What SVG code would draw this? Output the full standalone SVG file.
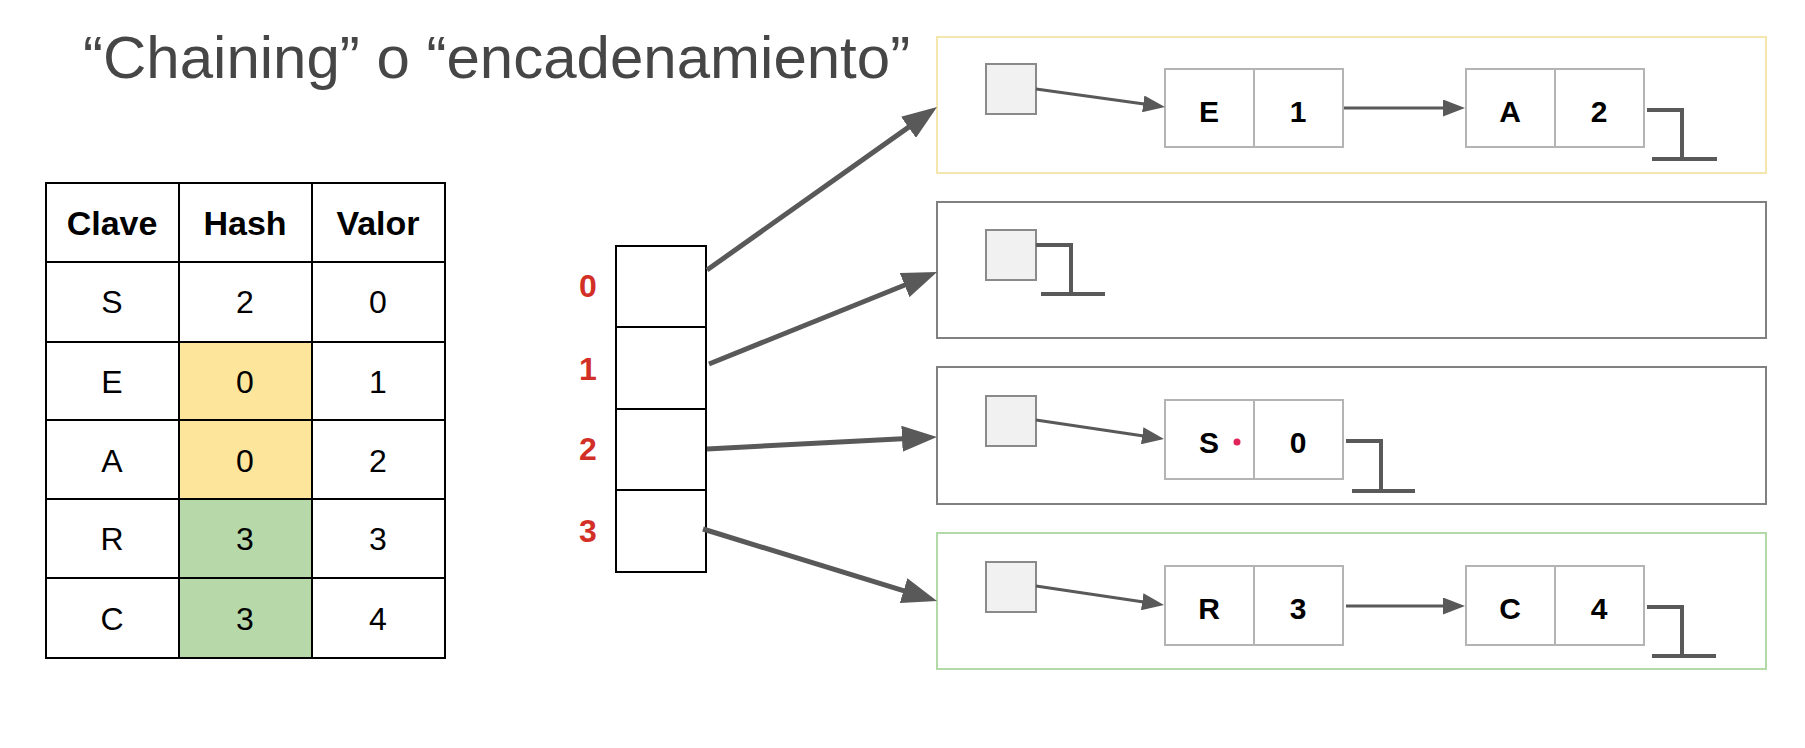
<svg xmlns="http://www.w3.org/2000/svg" width="1805" height="748" viewBox="0 0 1805 748">
  <defs>
    <style>
      .title { font-family: "Liberation Sans", Arial, sans-serif; font-size: 60px; fill: #464646; }
      .th { font-family: "Liberation Sans", Arial, sans-serif; font-size: 34px; font-weight: bold; fill: #000; text-anchor: middle; }
      .td { font-family: "Liberation Sans", Arial, sans-serif; font-size: 32px; fill: #000; text-anchor: middle; }
      .grid { fill: none; stroke: #000; stroke-width: 2; }
      .idx { font-family: "Liberation Sans", Arial, sans-serif; font-size: 32px; font-weight: bold; fill: #d22f27; text-anchor: middle; }
      .slot { fill: #fff; stroke: #000; stroke-width: 2; }
      .box { fill: #fff; stroke-width: 2; }
      .head { fill: #f1f1f1; stroke: #8a8a8a; stroke-width: 2; }
      .cell { fill: #fff; stroke: #b4b4b4; stroke-width: 2; }
      .nt { font-family: "Liberation Sans", Arial, sans-serif; font-size: 30px; font-weight: bold; fill: #000; text-anchor: middle; }
      .thick { fill: none; stroke: #595959; stroke-width: 5; marker-end: url(#bigArrow); }
      .thin { fill: none; stroke: #595959; stroke-width: 3; marker-end: url(#smallArrow); }
      .null { fill: none; stroke: #595959; stroke-width: 4; }
    </style>
    <marker id="bigArrow" viewBox="0 0 35 26" markerWidth="35" markerHeight="26" refX="15" refY="13" orient="auto" markerUnits="userSpaceOnUse">
      <path d="M0,0 L35,13 L0,26 z" fill="#595959"/>
    </marker>
    <marker id="smallArrow" viewBox="0 0 22 17" markerWidth="22" markerHeight="17" refX="10" refY="8.5" orient="auto" markerUnits="userSpaceOnUse">
      <path d="M0,0 L22,8.5 L0,17 z" fill="#595959"/>
    </marker>
  </defs>

  <rect width="1805" height="748" fill="#fff"/>

  <text id="title" class="title" x="83" y="78">“Chaining” o “encadenamiento”</text>

  <!-- Table -->
  <g id="table">
    <rect x="179" y="342" width="133" height="157" fill="#fde59b"/>
    <rect x="179" y="499" width="133" height="159" fill="#b7d8a9"/>
    <rect class="grid" x="46" y="183" width="399" height="475"/>
    <path class="grid" d="M179,183 V658 M312,183 V658 M46,262 H445 M46,342 H445 M46,420 H445 M46,499 H445 M46,578 H445"/>
    <text class="th" x="112" y="235">Clave</text>
    <text class="th" x="245" y="235">Hash</text>
    <text class="th" x="378" y="235">Valor</text>
    <text class="td" x="112" y="313">S</text><text class="td" x="245" y="313">2</text><text class="td" x="378" y="313">0</text>
    <text class="td" x="112" y="393">E</text><text class="td" x="245" y="393">0</text><text class="td" x="378" y="393">1</text>
    <text class="td" x="112" y="472">A</text><text class="td" x="245" y="472">0</text><text class="td" x="378" y="472">2</text>
    <text class="td" x="112" y="550">R</text><text class="td" x="245" y="550">3</text><text class="td" x="378" y="550">3</text>
    <text class="td" x="112" y="630">C</text><text class="td" x="245" y="630">3</text><text class="td" x="378" y="630">4</text>
  </g>

  <!-- Bucket array -->
  <g id="buckets">
    <rect class="slot" x="616" y="246" width="90" height="81"/>
    <rect class="slot" x="616" y="327" width="90" height="82"/>
    <rect class="slot" x="616" y="409" width="90" height="81"/>
    <rect class="slot" x="616" y="490" width="90" height="82"/>
    <text class="idx" x="588" y="297">0</text>
    <text class="idx" x="588" y="380">1</text>
    <text class="idx" x="588" y="460">2</text>
    <text class="idx" x="588" y="542">3</text>
  </g>

  <!-- Chain boxes -->
  <g id="chain0">
    <rect class="box" x="937" y="37" width="829" height="136" stroke="#f5e6ae"/>
    <rect class="head" x="986" y="64" width="50" height="50"/>
    <rect class="cell" x="1165" y="69" width="89" height="78"/>
    <rect class="cell" x="1254" y="69" width="89" height="78"/>
    <text class="nt" x="1209" y="122">E</text>
    <text class="nt" x="1298" y="122">1</text>
    <rect class="cell" x="1466" y="69" width="89" height="78"/>
    <rect class="cell" x="1555" y="69" width="89" height="78"/>
    <text class="nt" x="1510" y="122">A</text>
    <text class="nt" x="1599" y="122">2</text>
    <path class="null" d="M1647,110 H1682 V159 M1652,159 H1717"/>
  </g>

  <g id="chain1">
    <rect class="box" x="937" y="202" width="829" height="136" stroke="#808080"/>
    <rect class="head" x="986" y="230" width="50" height="50"/>
    <path class="null" d="M1036,245 H1071 V294 M1041,294 H1105"/>
  </g>

  <g id="chain2">
    <rect class="box" x="937" y="367" width="829" height="137" stroke="#808080"/>
    <rect class="head" x="986" y="396" width="50" height="50"/>
    <rect class="cell" x="1165" y="400" width="89" height="79"/>
    <rect class="cell" x="1254" y="400" width="89" height="79"/>
    <text class="nt" x="1209" y="453">S</text>
    <circle cx="1237" cy="442" r="3.5" fill="#e0245a"/>
    <text class="nt" x="1298" y="453">0</text>
    <path class="null" d="M1346,441 H1381 V491 M1352,491 H1415"/>
  </g>

  <g id="chain3">
    <rect class="box" x="937" y="533" width="829" height="136" stroke="#b2daa7"/>
    <rect class="head" x="986" y="562" width="50" height="50"/>
    <rect class="cell" x="1165" y="566" width="89" height="79"/>
    <rect class="cell" x="1254" y="566" width="89" height="79"/>
    <text class="nt" x="1209" y="619">R</text>
    <text class="nt" x="1298" y="619">3</text>
    <rect class="cell" x="1466" y="566" width="89" height="79"/>
    <rect class="cell" x="1555" y="566" width="89" height="79"/>
    <text class="nt" x="1510" y="619">C</text>
    <text class="nt" x="1599" y="619">4</text>
    <path class="null" d="M1647,607 H1682 V656 M1652,656 H1716"/>
  </g>

  <!-- Connectors -->
  <g id="connectors">
    <line class="thick" x1="707" y1="270" x2="920.7" y2="118.6"/>
    <line class="thick" x1="709" y1="364" x2="918.5" y2="279.5"/>
    <line class="thick" x1="707" y1="449" x2="917.0" y2="438.0"/>
    <line class="thick" x1="703" y1="529" x2="917.9" y2="595.1"/>
    <line class="thin" x1="1036" y1="89" x2="1153.1" y2="105.3"/>
    <line class="thin" x1="1344" y1="108" x2="1453" y2="108"/>
    <line class="thin" x1="1036" y1="420" x2="1152.1" y2="437.2"/>
    <line class="thin" x1="1036" y1="586" x2="1152.1" y2="603.2"/>
    <line class="thin" x1="1346" y1="606" x2="1453" y2="606"/>
  </g>
</svg>
